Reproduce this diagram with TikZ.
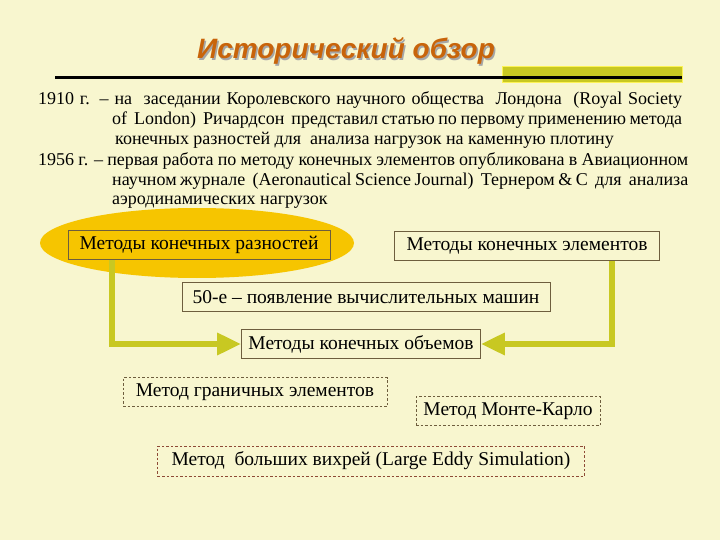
\documentclass[tikz,border=0pt]{standalone}
\usepackage{fontspec}
\setmainfont{Liberation Serif}
\newfontfamily\titlefont{Liberation Sans}
\usetikzlibrary{
		positioning,
		arrows.meta
	}
\definecolor{bg}{HTML}{F8F6CF}
\definecolor{gold}{HTML}{F6C500}
\definecolor{olive}{HTML}{C8C822}
\definecolor{rust}{HTML}{C8640A}
\definecolor{boxline}{HTML}{6E5E3E}
\definecolor{redline}{HTML}{8E4A36}
\newcommand{\shadowtext}[1]{\makebox[0pt][l]{\hspace{1.5pt}\raisebox{-1.5pt}{\textcolor{black!35}{#1}}}#1}
\tikzset{
		>=Triangle,
		txtline/.style={anchor=west, inner sep=0pt, font=\fontsize{18}{21}\selectfont},
		mbox/.style={draw=boxline, line width=0.6pt, inner sep=0pt, minimum height=29pt, font=\fontsize{19.5}{22}\selectfont},
		dbox/.style={mbox, dashed, dash pattern=on 2.5pt off 2pt},
		flow/.style={draw=olive, line width=6.5pt, -{Triangle[length=24pt,width=21pt]}}
	}

\begin{document}
\begin{tikzpicture}[x=1pt, y=-1pt] % 1 unit = 1 px of the 720x540 slide, y downwards
		\useasboundingbox (0,0) rectangle (720,540);
		\fill[bg] (0,0) rectangle (720,540);
		% title and rule
		\node[text=rust, font=\titlefont\bfseries\itshape\fontsize{28}{32}\selectfont] (title) at (346,52) {\shadowtext{Исторический обзор}};
		\fill[olive, draw=yellow!60!bg, line width=1pt] (502,67) rectangle (682,83);
		\draw[line width=3pt] (55,78) -- (682,78);
		% history text
		\foreach \n/\x/\y/\w/\a/\t in {
				1/38/100/644/s/{1910 г. – на \ заседании Королевского научного общества \ Лондона \ (Royal Society},
				2/112/120/570/s/{of \ London) \ Ричардсон \ представил статью по первому применению метода},
				3/115/140/495/l/{конечных разностей для \ анализа нагрузок на каменную плотину},
				4/38/161/650/s/{1956 г. – первая работа по методу конечных элементов опубликована в Авиационном},
				5/112/181/576/s/{научном журнале \ (Aeronautical Science Journal) \ Тернером \& C \ для \ анализа},
				6/112/202/233/l/{аэродинамических нагрузок}} {
			\node[txtline] (line\n) at (\x,\y) {\makebox[\w pt][\a]{\t}};
		}
		% methods
		\fill[gold] (197,243) ellipse [x radius=157pt, y radius=35pt];
		\node[mbox, minimum width=262pt] (diff) at (199,245) {Методы конечных разностей};
		\node[mbox, minimum width=265pt] (fem) at (527,246) {Методы конечных элементов};
		\node[mbox, minimum width=368pt] (comp) at (366,297) {50-е – появление вычислительных машин};
		\node[mbox, minimum width=239pt] (fvm) at (361,344) {Методы конечных объемов};
		\draw[flow] ([xshift=-87pt]diff.south) |- (fvm.west);
		\draw[flow] ([xshift=85pt]fem.south) |- (fvm.east);
		\node[dbox, minimum width=264pt] (bem) at (255,392) {Метод граничных элементов};
		\node[dbox, minimum width=184pt] (mc) at (508,411) {Метод Монте-Карло};
		\node[dbox, draw=redline, minimum width=427pt, minimum height=30pt] (les) at (371,461) {Метод \ больших вихрей (Large Eddy Simulation)};
	\end{tikzpicture}
\end{document}
